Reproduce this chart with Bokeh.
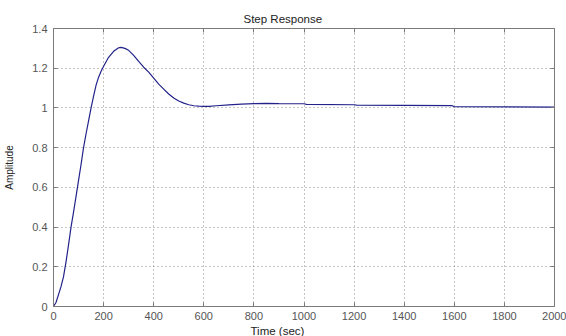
from bokeh.plotting import figure
from bokeh.models import (Range1d, LinearAxis, NumeralTickFormatter, FixedTicker,
                          Title, CustomJSTickFormatter)
from bokeh.embed import file_html
from bokeh.resources import INLINE

time_s = [0, 10, 20, 30, 40, 50, 60, 70, 80, 90, 100, 110, 120, 130, 140, 150,
          160, 170, 180, 190, 200, 220, 240, 260, 270, 285, 300, 320, 340, 360,
          380, 400, 420, 440, 460, 480, 500, 520, 540, 560, 580, 600, 620, 650,
          700, 750, 800, 850, 900, 1000, 1010, 1200, 1210, 1590, 1600, 2000]
amplitude = [0.0, 0.02, 0.06, 0.10, 0.15, 0.225, 0.31, 0.40, 0.475, 0.555,
             0.635, 0.715, 0.80, 0.87, 0.935, 1.0, 1.06, 1.115, 1.155, 1.185,
             1.21, 1.255, 1.285, 1.303, 1.305, 1.30, 1.29, 1.265, 1.235, 1.205,
             1.18, 1.15, 1.12, 1.095, 1.07, 1.05, 1.035, 1.024, 1.016, 1.011,
             1.009, 1.008, 1.008, 1.011, 1.015, 1.019, 1.022, 1.023, 1.022,
             1.021, 1.018, 1.016, 1.014, 1.012, 1.006, 1.004]

x_ticks = [0, 200, 400, 600, 800, 1000, 1200, 1400, 1600, 1800, 2000]
y_ticks = [0, 0.2, 0.4, 0.6, 0.8, 1.0, 1.2, 1.4]

title_text = "Step Response"
x_label = "Time (sec)"
y_label = "Amplitude"

FONT = "Liberation Sans"
FRAME = "#7a7a7a"

p = figure(width=566, height=336, output_backend="svg", toolbar_location=None,
           x_range=Range1d(0, 2000), y_range=Range1d(0, 1.4),
           min_border_left=53, min_border_right=12, min_border_top=28,
           min_border_bottom=30, title=None)
p.outline_line_color = FRAME
p.background_fill_color = "white"
p.border_fill_color = "white"

p.line(time_s, amplitude, line_color="#22228a", line_width=1.2)

for ax in (p.xaxis[0], p.yaxis[0]):
    ax.major_tick_in = 4
    ax.major_tick_out = 0
    ax.minor_tick_in = 0
    ax.minor_tick_out = 0
    ax.axis_line_color = FRAME
    ax.major_tick_line_color = FRAME
    ax.major_label_text_font = FONT
    ax.major_label_text_font_size = "11px"
    ax.major_label_text_color = "#555555"
p.xaxis.ticker = FixedTicker(ticks=x_ticks)
p.yaxis.ticker = FixedTicker(ticks=y_ticks)
p.yaxis.formatter = NumeralTickFormatter(format="0.[0]")
p.xaxis.major_label_standoff = 5
p.yaxis.major_label_standoff = 6
p.yaxis.axis_label = y_label
p.yaxis.axis_label_text_font = FONT
p.yaxis.axis_label_text_font_size = "10px"
p.yaxis.axis_label_text_font_style = "normal"
p.yaxis.axis_label_text_color = "#222222"
p.yaxis.axis_label_standoff = 14

# mirrored ticks on top and right, without labels
for loc, ticks in (("above", x_ticks), ("right", y_ticks)):
    a = LinearAxis(ticker=FixedTicker(ticks=ticks), major_tick_in=4,
                   major_tick_out=0, minor_tick_in=0, minor_tick_out=0,
                   axis_line_color=FRAME, major_tick_line_color=FRAME,
                   formatter=CustomJSTickFormatter(code="return ''"),
                   major_label_text_font_size="1px",
                   major_label_standoff=0)
    p.add_layout(a, loc)

p.xgrid.ticker = FixedTicker(ticks=x_ticks)
p.ygrid.ticker = FixedTicker(ticks=y_ticks)
p.grid.grid_line_color = "#8a8a8a"
p.grid.grid_line_dash = "1 3"
p.grid.grid_line_width = 1

p.add_layout(Title(text=title_text, align="left", offset=190, standoff=8,
                   text_font=FONT, text_font_size="11.5px",
                   text_font_style="normal", text_color="#222222"), "above")
p.add_layout(Title(text=x_label, align="left", offset=197, standoff=0,
                   text_font=FONT, text_font_size="11.5px",
                   text_font_style="normal", text_color="#222222"), "below")

open("out.html", "w").write(file_html(p, INLINE))
